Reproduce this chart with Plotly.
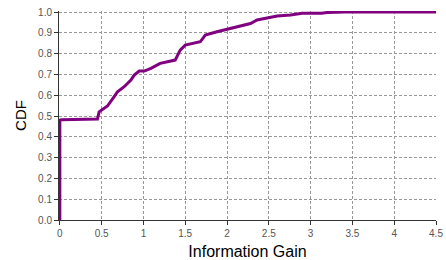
import plotly.graph_objects as go

info_gain = [0, 0, 0.02, 0.45, 0.47, 0.57, 0.65, 0.69, 0.77, 0.85, 0.89, 0.95, 1.01, 1.09, 1.2,
             1.32, 1.38, 1.44, 1.5, 1.68, 1.74, 1.88, 2.04, 2.28, 2.36, 2.52, 2.6, 2.76, 2.9,
             3.13, 3.2, 3.41, 4.5]
cdf = [0.0, 0.48, 0.482, 0.486, 0.52, 0.548, 0.593, 0.617, 0.641, 0.673, 0.697, 0.716, 0.716,
       0.729, 0.753, 0.766, 0.769, 0.817, 0.841, 0.857, 0.889, 0.905, 0.921, 0.945, 0.962,
       0.975, 0.981, 0.986, 0.994, 0.994, 0.998, 1.0, 1.0]

x_ticks = [0, 0.5, 1, 1.5, 2, 2.5, 3, 3.5, 4, 4.5]
x_tick_labels = ["0", "0.5", "1", "1.5", "2", "2.5", "3", "3.5", "4", "4.5"]
y_ticks = [0.0, 0.1, 0.2, 0.3, 0.4, 0.5, 0.6, 0.7, 0.8, 0.9, 1.0]
y_tick_labels = ["0.0", "0.1", "0.2", "0.3", "0.4", "0.5", "0.6", "0.7", "0.8", "0.9", "1.0"]

fig = go.Figure()
fig.add_trace(go.Scatter(x=info_gain, y=cdf, mode="lines",
                         line=dict(color="#800080", width=3), showlegend=False))

fig.update_layout(
    width=446, height=260,
    margin=dict(l=59, r=10, t=11, b=40, autoexpand=False),
    paper_bgcolor="white", plot_bgcolor="white",
    font=dict(family="Liberation Sans, Arial, sans-serif"),
)
fig.update_xaxes(
    range=[-0.01, 4.5], tickvals=x_ticks, ticktext=x_tick_labels,
    showgrid=True, gridcolor="#999999", griddash="3px,2px", gridwidth=1,
    showline=True, linecolor="#333333", linewidth=1,
    ticks="outside", ticklen=4, tickcolor="#333333",
    tickfont=dict(size=10, color="#555555"),
    title=dict(text="Information Gain", font=dict(size=16, color="black"), standoff=7),
    zeroline=False, automargin=False,
)
fig.update_yaxes(
    range=[0, 1.005], tickvals=y_ticks, ticktext=y_tick_labels,
    showgrid=True, gridcolor="#999999", griddash="3px,2px", gridwidth=1,
    showline=True, linecolor="#333333", linewidth=1,
    ticks="outside", ticklen=4, tickcolor="#333333",
    tickfont=dict(size=10, color="#555555"),
    title=dict(text="CDF", font=dict(size=15, color="black"), standoff=7),
    zeroline=False, automargin=False,
)

fig.write_html("out.html", config={"displayModeBar": False},
               post_script="document.body.style.margin='0px';")
